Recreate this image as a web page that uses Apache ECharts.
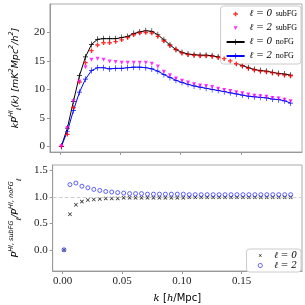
<!DOCTYPE html>
<html><head><meta charset="utf-8">
<script src="https://cdn.jsdelivr.net/npm/echarts@6/dist/echarts.min.js"></script>
<style>html,body{margin:0;padding:0;background:#fff}#c{width:305px;height:305px}</style>
</head><body><div id="c"></div>
<script>
const k = [0.0012,0.0062,0.0112,0.0162,0.0212,0.0262,0.0312,0.0362,0.0412,0.0462,0.0512,0.0562,0.0612,0.0662,0.0712,0.0762,0.0812,0.0862,0.0912,0.0962,0.1012,0.1062,0.1112,0.1162,0.1212,0.1262,0.1312,0.1362,0.1412,0.1462,0.1512,0.1562,0.1612,0.1662,0.1712,0.1762,0.1812,0.1862,0.1912];
const noFG0 = [0,3.2,7.9,12.4,15.7,17.9,18.8,18.9,18.9,18.9,19.1,19.3,19.8,20.1,20.3,20.2,19.6,18.7,17.8,17.0,16.5,16.2,16.1,16.0,16.0,15.9,15.7,15.5,15.1,14.6,14.2,13.8,13.5,13.3,13.2,13.0,12.8,12.7,12.5];
const subFG0 = [0,2.1,6.8,11.3,14.7,16.8,17.8,18.2,18.2,18.4,18.7,19.1,19.6,19.9,20.0,19.9,19.3,18.5,17.7,17.0,16.4,16.1,16.0,15.9,15.9,15.8,15.6,15.4,15.0,14.5,14.1,13.7,13.4,13.2,13.1,12.9,12.7,12.5,12.4];
const subFG2 = [0,3.2,7.9,11.4,13.9,15.2,15.4,15.2,14.9,14.8,14.7,14.7,14.7,14.7,14.7,14.5,14.0,13.1,12.5,11.9,11.5,11.2,10.9,10.7,10.6,10.4,10.1,9.9,9.7,9.5,9.3,9.1,8.9,8.8,8.7,8.5,8.4,8.2,7.9];
const noFG2 = [0,2.6,6.3,9.5,11.8,13.3,13.8,13.8,13.6,13.7,13.7,13.8,13.9,13.9,13.8,13.6,13.2,12.6,12.1,11.6,11.2,10.9,10.6,10.4,10.2,10.0,9.8,9.6,9.4,9.2,9.0,8.8,8.7,8.6,8.5,8.3,8.2,8.0,7.6];
const ratio0 = [0,0.67,0.85,0.91,0.94,0.95,0.96,0.97,0.97,0.97,0.98,0.98,0.98,0.98,0.98,0.98,0.98,0.98,0.98,0.98,0.98,0.99,0.99,0.99,0.99,0.99,0.99,0.99,0.99,0.99,0.99,0.99,0.99,0.99,0.99,0.99,0.99,0.99,0.99];
const ratio2 = [0,1.23,1.26,1.20,1.17,1.14,1.12,1.10,1.09,1.08,1.07,1.06,1.06,1.06,1.05,1.05,1.05,1.05,1.05,1.05,1.05,1.04,1.04,1.04,1.04,1.04,1.04,1.04,1.04,1.04,1.04,1.04,1.04,1.04,1.04,1.04,1.04,1.04,1.04];
const xTicks = [0, 0.05, 0.10, 0.15];
const yTopTicks = [0, 5, 10, 15, 20];
const yBotTicks = [0.0, 0.5, 1.0, 1.5];

const pair = (ys) => k.map((x, i) => [x, ys[i]]);
const PLUS_THIN = 'path://M-1,-0.12H-0.12V-1H0.12V-0.12H1V0.12H0.12V1H-0.12V0.12H-1Z';
const PLUS_FAT = 'path://M-1,-0.3H-0.3V-1H0.3V-0.3H1V0.3H0.3V1H-0.3V0.3H-1Z';
const TRI_DOWN = 'path://M-1,-1L1,-1L0,1Z';
const CROSS = 'path://M-1,-0.72L-0.72,-1L0,-0.28L0.72,-1L1,-0.72L0.28,0L1,0.72L0.72,1L0,0.28L-0.72,1L-1,0.72L-0.28,0Z';
function ringPath(r1, r2, n) {
  let s = 'M-3,-1.2M3,1.2';
  for (let j = 0; j <= n; j++) { const a = 2 * Math.PI * j / n; s += (j ? 'L' : 'M') + (r1 * Math.cos(a)).toFixed(3) + ',' + (r1 * Math.sin(a)).toFixed(3); }
  s += 'Z';
  for (let j = 0; j <= n; j++) { const a = -2 * Math.PI * j / n; s += (j ? 'L' : 'M') + (r2 * Math.cos(a)).toFixed(3) + ',' + (r2 * Math.sin(a)).toFixed(3); }
  return 'path://' + s + 'Z';
}
const LEG_PLUS = 'path://M-3,-1.2M3,1.2M-0.8,-0.25H-0.25V-0.8H0.25V-0.25H0.8V0.25H0.25V0.8H-0.25V0.25H-0.8Z';
const LEG_TRI = 'path://M-3,-1.2M3,1.2M-0.7,-0.6L0.7,-0.6L0,0.7Z';
const LEG_CROSS = 'path://M-3,-1.2M3,1.2M-0.55,-0.4L-0.4,-0.55L0,-0.15L0.4,-0.55L0.55,-0.4L0.15,0L0.55,0.4L0.4,0.55L0,0.15L-0.4,0.55L-0.55,0.4L-0.15,0Z';
const LEG_CIRC = ringPath(0.85, 0.55, 20);
const serif = 'Liberation Serif';
const gray = '#999';

const legendLabel = {
  'ℓ = 0 subFG': '{m|ℓ = 0} {s|subFG}',
  'ℓ = 2 subFG': '{m|ℓ = 2} {s|subFG}',
  'ℓ = 0 noFG': '{m|ℓ = 0} {s|noFG}',
  'ℓ = 2 noFG': '{m|ℓ = 2} {s|noFG}',
  'ℓ = 0': '{m|ℓ = 0}',
  'ℓ = 2': '{m|ℓ = 2}'
};
const legendRich = {
  m: {fontFamily: 'DejaVu Serif', fontStyle: 'italic', fontSize: 9, color: '#000', lineHeight: 10},
  s: {fontFamily: serif, fontSize: 8, color: '#000', lineHeight: 10}
};
const nameRich = {
  i: {fontFamily: 'DejaVu Sans', fontStyle: 'italic', fontSize: 9.5, color: '#000', lineHeight: 15},
  sup: {fontFamily: 'DejaVu Sans', fontStyle: 'italic', fontSize: 6.5, color: '#000', lineHeight: 7, verticalAlign: 'top'},
  sub: {fontFamily: 'DejaVu Sans', fontStyle: 'italic', fontSize: 6.5, color: '#000', lineHeight: 7, verticalAlign: 'bottom'}
};

const chart = echarts.init(document.getElementById('c'));
const axLine = {onZero: false, lineStyle: {color: gray}};
chart.setOption({
  animation: false,
  grid: [
    {left: 36, top: 4, width: 266, height: 148, show: true, borderColor: '#aaa', borderWidth: 1},
    {left: 36, top: 165, width: 266, height: 110, show: true, borderColor: '#aaa', borderWidth: 1}
  ],
  xAxis: [
    {type: 'value', gridIndex: 0, min: -0.0083, max: 0.2007,
      axisLine: axLine, splitLine: {show: false},
      axisTick: {show: true, length: 3, lineStyle: {color: gray}, customValues: xTicks},
      axisLabel: {show: false, customValues: xTicks}},
    {type: 'value', gridIndex: 1, min: -0.0083, max: 0.2007,
      axisLine: axLine, splitLine: {show: false},
      axisTick: {show: true, length: 3, lineStyle: {color: gray}, customValues: xTicks},
      axisLabel: {customValues: xTicks, fontFamily: serif, fontSize: 11, color: '#222', margin: 5,
        formatter: v => v.toFixed(2)},
      name: '{i|k} {n|[}{i|h}{n|/Mpc]}', nameLocation: 'middle', nameGap: 21,
      nameTextStyle: {rich: {
        i: {fontFamily: 'DejaVu Serif', fontStyle: 'italic', fontSize: 10, color: '#000'},
        n: {fontFamily: 'DejaVu Sans', fontSize: 10, color: '#000'}}}}
  ],
  yAxis: [
    {type: 'value', gridIndex: 0, min: -1.0, max: 25,
      axisLine: axLine, splitLine: {show: false},
      axisTick: {show: true, length: 3, lineStyle: {color: gray}, customValues: yTopTicks},
      axisLabel: {customValues: yTopTicks, fontFamily: serif, fontSize: 11, color: '#222', margin: 5},
      name: '{i|kP}{sup|HI}{sub|ℓ}{i|(k) [mK}{sup|2}{i|Mpc}{sup|2}{i|/h}{sup|2}{i|]}',
      nameLocation: 'middle', nameGap: 20, nameRotate: 90,
      nameTextStyle: {rich: nameRich}},
    {type: 'value', gridIndex: 1, min: -0.4, max: 1.6,
      axisLine: axLine, splitLine: {show: false},
      axisTick: {show: true, length: 3, lineStyle: {color: gray}, customValues: yBotTicks},
      axisLabel: {customValues: yBotTicks, fontFamily: serif, fontSize: 11, color: '#222', margin: 5,
        formatter: v => v.toFixed(1)},
      name: '{i|P}{sup|HI, subFG}{sub|ℓ}{i|/P}{sup|HI, noFG}{sub|ℓ}',
      nameLocation: 'middle', nameGap: 21, nameRotate: 90,
      nameTextStyle: {rich: nameRich}}
  ],
  legend: [
    {data: [{name: 'ℓ = 0 subFG', icon: LEG_PLUS}, {name: 'ℓ = 2 subFG', icon: LEG_TRI}, 'ℓ = 0 noFG', 'ℓ = 2 noFG'],
      orient: 'vertical', right: 4, top: 6, itemWidth: 18, itemHeight: 7, itemGap: 2, padding: [2, 4, 2, 5],
      borderColor: '#ccc', borderWidth: 1, borderRadius: 3, backgroundColor: '#fff',
      formatter: n => legendLabel[n], textStyle: {rich: legendRich}},
    {data: [{name: 'ℓ = 0', icon: LEG_CROSS}, {name: 'ℓ = 2', icon: LEG_CIRC, itemStyle: {color: '#3a3aff', borderWidth: 0}}], orient: 'vertical',
      right: 4, top: 249, itemWidth: 18, itemHeight: 7, itemGap: 1, padding: [2, 4, 2, 5],
      borderColor: '#ccc', borderWidth: 1, borderRadius: 3, backgroundColor: '#fff',
      formatter: n => legendLabel[n], textStyle: {rich: legendRich}}
  ],
  series: [
    {name: 'ℓ = 0 noFG', type: 'line', xAxisIndex: 0, yAxisIndex: 0, data: pair(noFG0),
      lineStyle: {color: '#000', width: 1}, itemStyle: {color: '#000'},
      symbol: PLUS_THIN, symbolSize: [5, 6], showSymbol: true, z: 3},
    {name: 'ℓ = 2 noFG', type: 'line', xAxisIndex: 0, yAxisIndex: 0, data: pair(noFG2),
      lineStyle: {color: '#0000ff', width: 1}, itemStyle: {color: '#0000ff'},
      symbol: PLUS_THIN, symbolSize: [5, 6], showSymbol: true, z: 3},
    {name: 'ℓ = 0 subFG', type: 'scatter', xAxisIndex: 0, yAxisIndex: 0, data: pair(subFG0),
      symbol: PLUS_FAT, symbolSize: 4.5, itemStyle: {color: '#ff0000'}, z: 4},
    {name: 'ℓ = 2 subFG', type: 'scatter', xAxisIndex: 0, yAxisIndex: 0, data: pair(subFG2),
      symbol: TRI_DOWN, symbolSize: 4, itemStyle: {color: '#ff00ff'}, z: 4},
    {name: 'ℓ = 0', type: 'scatter', xAxisIndex: 1, yAxisIndex: 1, data: pair(ratio0),
      symbol: CROSS, symbolSize: 4, itemStyle: {color: '#000'}, z: 4,
      markLine: {silent: true, symbol: 'none', label: {show: false},
        lineStyle: {color: '#d0d0d0', type: 'dashed', width: 1}, data: [{yAxis: 1}]}},
    {name: 'ℓ = 2', type: 'scatter', xAxisIndex: 1, yAxisIndex: 1, data: pair(ratio2),
      symbol: 'circle', symbolSize: 4, itemStyle: {color: 'rgba(0,0,0,0)', borderColor: '#3a3aff', borderWidth: 1}, z: 4}
  ]
});
</script></body></html>
